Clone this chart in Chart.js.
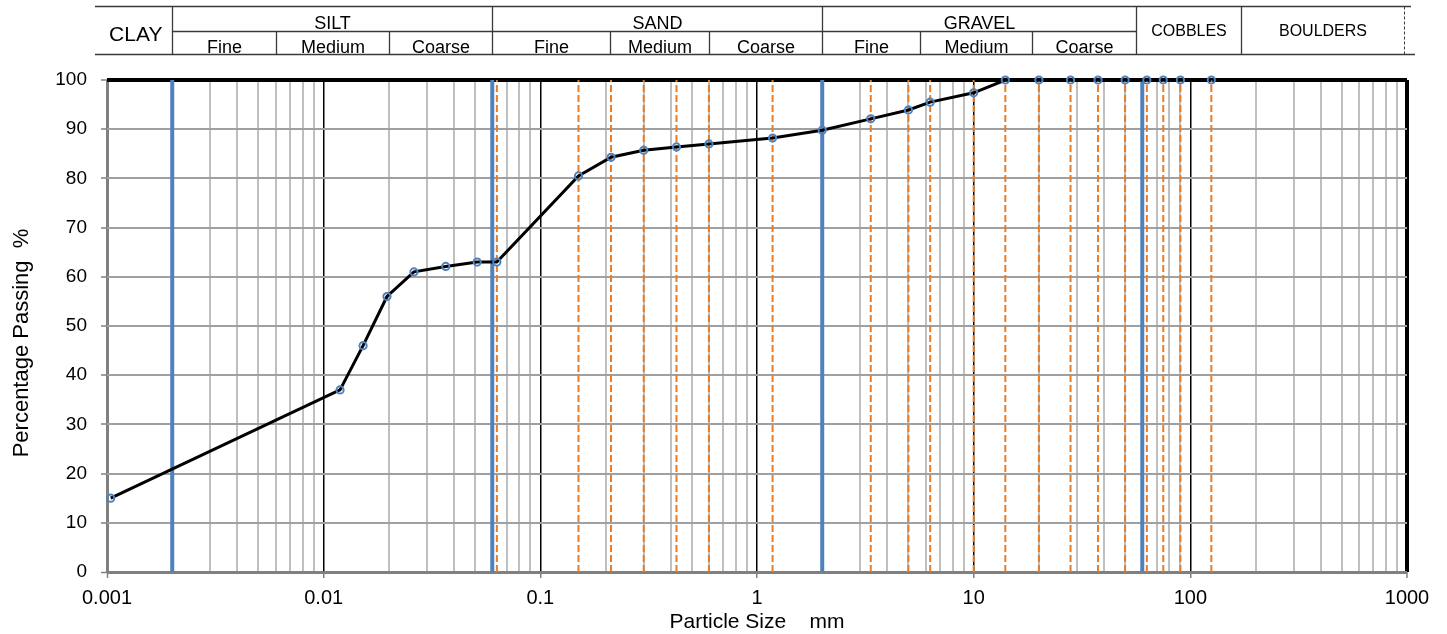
<!DOCTYPE html>
<html>
<head>
<meta charset="utf-8">
<script src="https://cdn.jsdelivr.net/npm/chart.js@4/dist/chart.umd.min.js"></script>
<style>
html,body{margin:0;padding:0;background:#fff}
#wrap{width:1447px;height:634px;position:relative}
</style>
</head>
<body>
<div id="wrap"><canvas id="c"></canvas></div>
<script>
// ---- data ----
const particleSizes = [0.00104, 0.0119, 0.0152, 0.0196, 0.0261, 0.0366, 0.0511, 0.063, 0.15, 0.212, 0.3, 0.425, 0.6, 1.18, 2, 3.35, 5, 6.3, 10, 14, 20, 28, 37.5, 50, 63, 75, 90, 125];
const percentPassing = [15, 37, 46, 56, 61, 62.1, 63, 63, 80.5, 84.3, 85.7, 86.4, 87, 88.2, 89.8, 92.1, 93.9, 95.5, 97.4, 100, 100, 100, 100, 100, 100, 100, 100, 100];
const sieveSizes = [0.063, 0.15, 0.212, 0.3, 0.425, 0.6, 1.18, 2, 3.35, 5, 6.3, 10, 14, 20, 28, 37.5, 50, 63, 75, 90, 125];
const boundarySizes = [0.002, 0.06, 2, 60];
const xTickValues = [0.001, 0.01, 0.1, 1, 10, 100, 1000];
const xTickLabels = ['0.001', '0.01', '0.1', '1', '10', '100', '1000'];
const yMin = 0, yMax = 100, yStep = 10;
const xTitle = 'Particle Size    mm';
const yTitle = 'Percentage Passing  %';
const headerMain = ['CLAY', 'SILT', 'SAND', 'GRAVEL', 'COBBLES', 'BOULDERS'];
const headerSub = ['Fine', 'Medium', 'Coarse'];
// header cell boundaries (in mm, on the x axis)
const headerMainBounds = [0.002, 0.06, 2, 56, 172];
const headerSubBounds = [[0.002, 0.006, 0.02, 0.06], [0.06, 0.21, 0.6, 2], [2, 5.68, 18.6, 56]];

const FONT = '"Liberation Sans", Arial, sans-serif';
const BLUE = '#4F81BD';
const ORANGE = '#EC7C22';

// minor/major grid positions for the log axis
const gridValues = [];
for (let e = -3; e <= 2; e++) {
  for (let m = 1; m <= 9; m++) gridValues.push(parseFloat((m * Math.pow(10, e)).toPrecision(4)));
}
gridValues.push(1000);
const isDecade = v => Math.abs(Math.log10(v) - Math.round(Math.log10(v))) < 1e-6;
const near = (a, b) => Math.abs(a - b) / b < 1e-6;

const datasets = [];
datasets.push({
  data: particleSizes.map((x, i) => ({x, y: percentPassing[i]})),
  borderColor: '#000', borderWidth: 3, tension: 0,
  pointRadius: 3.6, pointBorderColor: BLUE, pointBackgroundColor: 'rgba(0,0,0,0)', pointBorderWidth: 2,
  clip: false, order: 0
});
boundarySizes.forEach(v => datasets.push({
  data: [{x: v, y: yMin}, {x: v, y: yMax}],
  borderColor: BLUE, borderWidth: 4, pointRadius: 0, clip: false, order: 1
}));
sieveSizes.forEach(v => datasets.push({
  data: [{x: v, y: yMin}, {x: v, y: yMax}],
  borderColor: ORANGE, borderWidth: 2, borderDash: [7, 3], pointRadius: 0, clip: false, order: 2
}));

const headerPlugin = {
  id: 'header',
  afterDraw(chart) {
    const ctx = chart.ctx, xs = chart.scales.x, a = chart.chartArea;
    const X = v => Math.round(xs.getPixelForValue(v)) + 0.5;
    const yTop = 6.5, yMid = 31.5, yBot = 54.5;
    const left = a.left - 12;
    const line = (x1, y1, x2, y2) => { ctx.beginPath(); ctx.moveTo(x1, y1); ctx.lineTo(x2, y2); ctx.stroke(); };
    ctx.save();
    ctx.strokeStyle = '#3a3a3a';
    ctx.lineWidth = 1.3;
    line(left, yTop, a.right + 4, yTop);
    line(left, yBot, a.right + 8, yBot);
    line(X(headerMainBounds[0]), yMid, X(headerMainBounds[3]), yMid);
    headerMainBounds.forEach(v => line(X(v), yTop, X(v), yBot));
    headerSubBounds.forEach(g => { line(X(g[1]), yMid, X(g[1]), yBot); line(X(g[2]), yMid, X(g[2]), yBot); });
    ctx.setLineDash([3, 2]);
    ctx.lineWidth = 1;
    line(a.right - 2.5, yTop, a.right - 2.5, yBot);
    ctx.setLineDash([]);

    ctx.fillStyle = '#000';
    ctx.textAlign = 'center';
    ctx.textBaseline = 'alphabetic';
    // CLAY
    ctx.font = '21px ' + FONT;
    ctx.fillText(headerMain[0], (left + X(headerMainBounds[0])) / 2 + 2, 40.5);
    // SILT / SAND / GRAVEL
    ctx.font = '18px ' + FONT;
    for (let i = 0; i < 3; i++) {
      ctx.fillText(headerMain[i + 1], (X(headerMainBounds[i]) + X(headerMainBounds[i + 1])) / 2, 28.5);
      const g = headerSubBounds[i];
      for (let j = 0; j < 3; j++) {
        ctx.fillText(headerSub[j], (X(g[j]) + X(g[j + 1])) / 2, 52.5);
      }
    }
    // COBBLES / BOULDERS
    ctx.font = '16px ' + FONT;
    ctx.fillText(headerMain[4], (X(headerMainBounds[3]) + X(headerMainBounds[4])) / 2, 36);
    ctx.fillText(headerMain[5], (X(headerMainBounds[4]) + a.right - 2.5) / 2, 36);

    // axis titles
    ctx.font = '21px ' + FONT;
    ctx.fillText(xTitle, (a.left + a.right) / 2, 628);
    ctx.save();
    ctx.translate(28, 343);
    ctx.rotate(-Math.PI / 2);
    ctx.font = '22px ' + FONT;
    ctx.fillText(yTitle, 0, 0);
    ctx.restore();
    ctx.restore();
  }
};

new Chart(document.getElementById('c'), {
  type: 'line',
  data: {datasets},
  options: {
    responsive: true,
    maintainAspectRatio: false,
    animation: false,
    events: [],
    layout: {padding: {top: 80, right: 40, bottom: 0, left: 0}},
    plugins: {legend: {display: false}, tooltip: {enabled: false}},
    scales: {
      x: {
        type: 'logarithmic',
        min: xTickValues[0], max: xTickValues[xTickValues.length - 1],
        afterBuildTicks: s => { s.ticks = gridValues.map(v => ({value: v})); },
        afterFit: s => { s.height = 62; },
        border: {display: false},
        grid: {
          drawTicks: true, tickLength: 6, tickWidth: 1.5,
          tickColor: c => (c.tick && isDecade(c.tick.value)) ? '#808080' : 'rgba(0,0,0,0)',
          color: c => {
            const v = c.tick.value;
            if (near(v, 0.001)) return '#808080';
            if (near(v, 1000)) return '#000';
            return isDecade(v) ? '#000' : '#BFBFBF';
          },
          lineWidth: c => {
            const v = c.tick.value;
            if (near(v, 0.001)) return 3;
            if (near(v, 1000)) return 4;
            return isDecade(v) ? 1.5 : 2;
          }
        },
        ticks: {
          autoSkip: false, maxRotation: 0, minRotation: 0, padding: 8,
          color: '#000', font: {family: FONT, size: 20},
          callback: v => { const i = xTickValues.findIndex(t => near(v, t)); return i >= 0 ? xTickLabels[i] : ''; }
        }
      },
      y: {
        min: yMin, max: yMax,
        afterFit: s => { s.width = 107; },
        border: {display: false},
        grid: {
          tickLength: 6, tickWidth: 1.5, tickColor: '#808080',
          color: c => c.tick.value === yMax ? '#000' : (c.tick.value === yMin ? '#808080' : '#A0A0A0'),
          lineWidth: c => c.tick.value === yMax ? 4 : (c.tick.value === yMin ? 3 : 2)
        },
        ticks: {stepSize: yStep, padding: 14, color: '#000', font: {family: FONT, size: 19}}
      }
    }
  },
  plugins: [headerPlugin]
});
</script>
</body>
</html>
